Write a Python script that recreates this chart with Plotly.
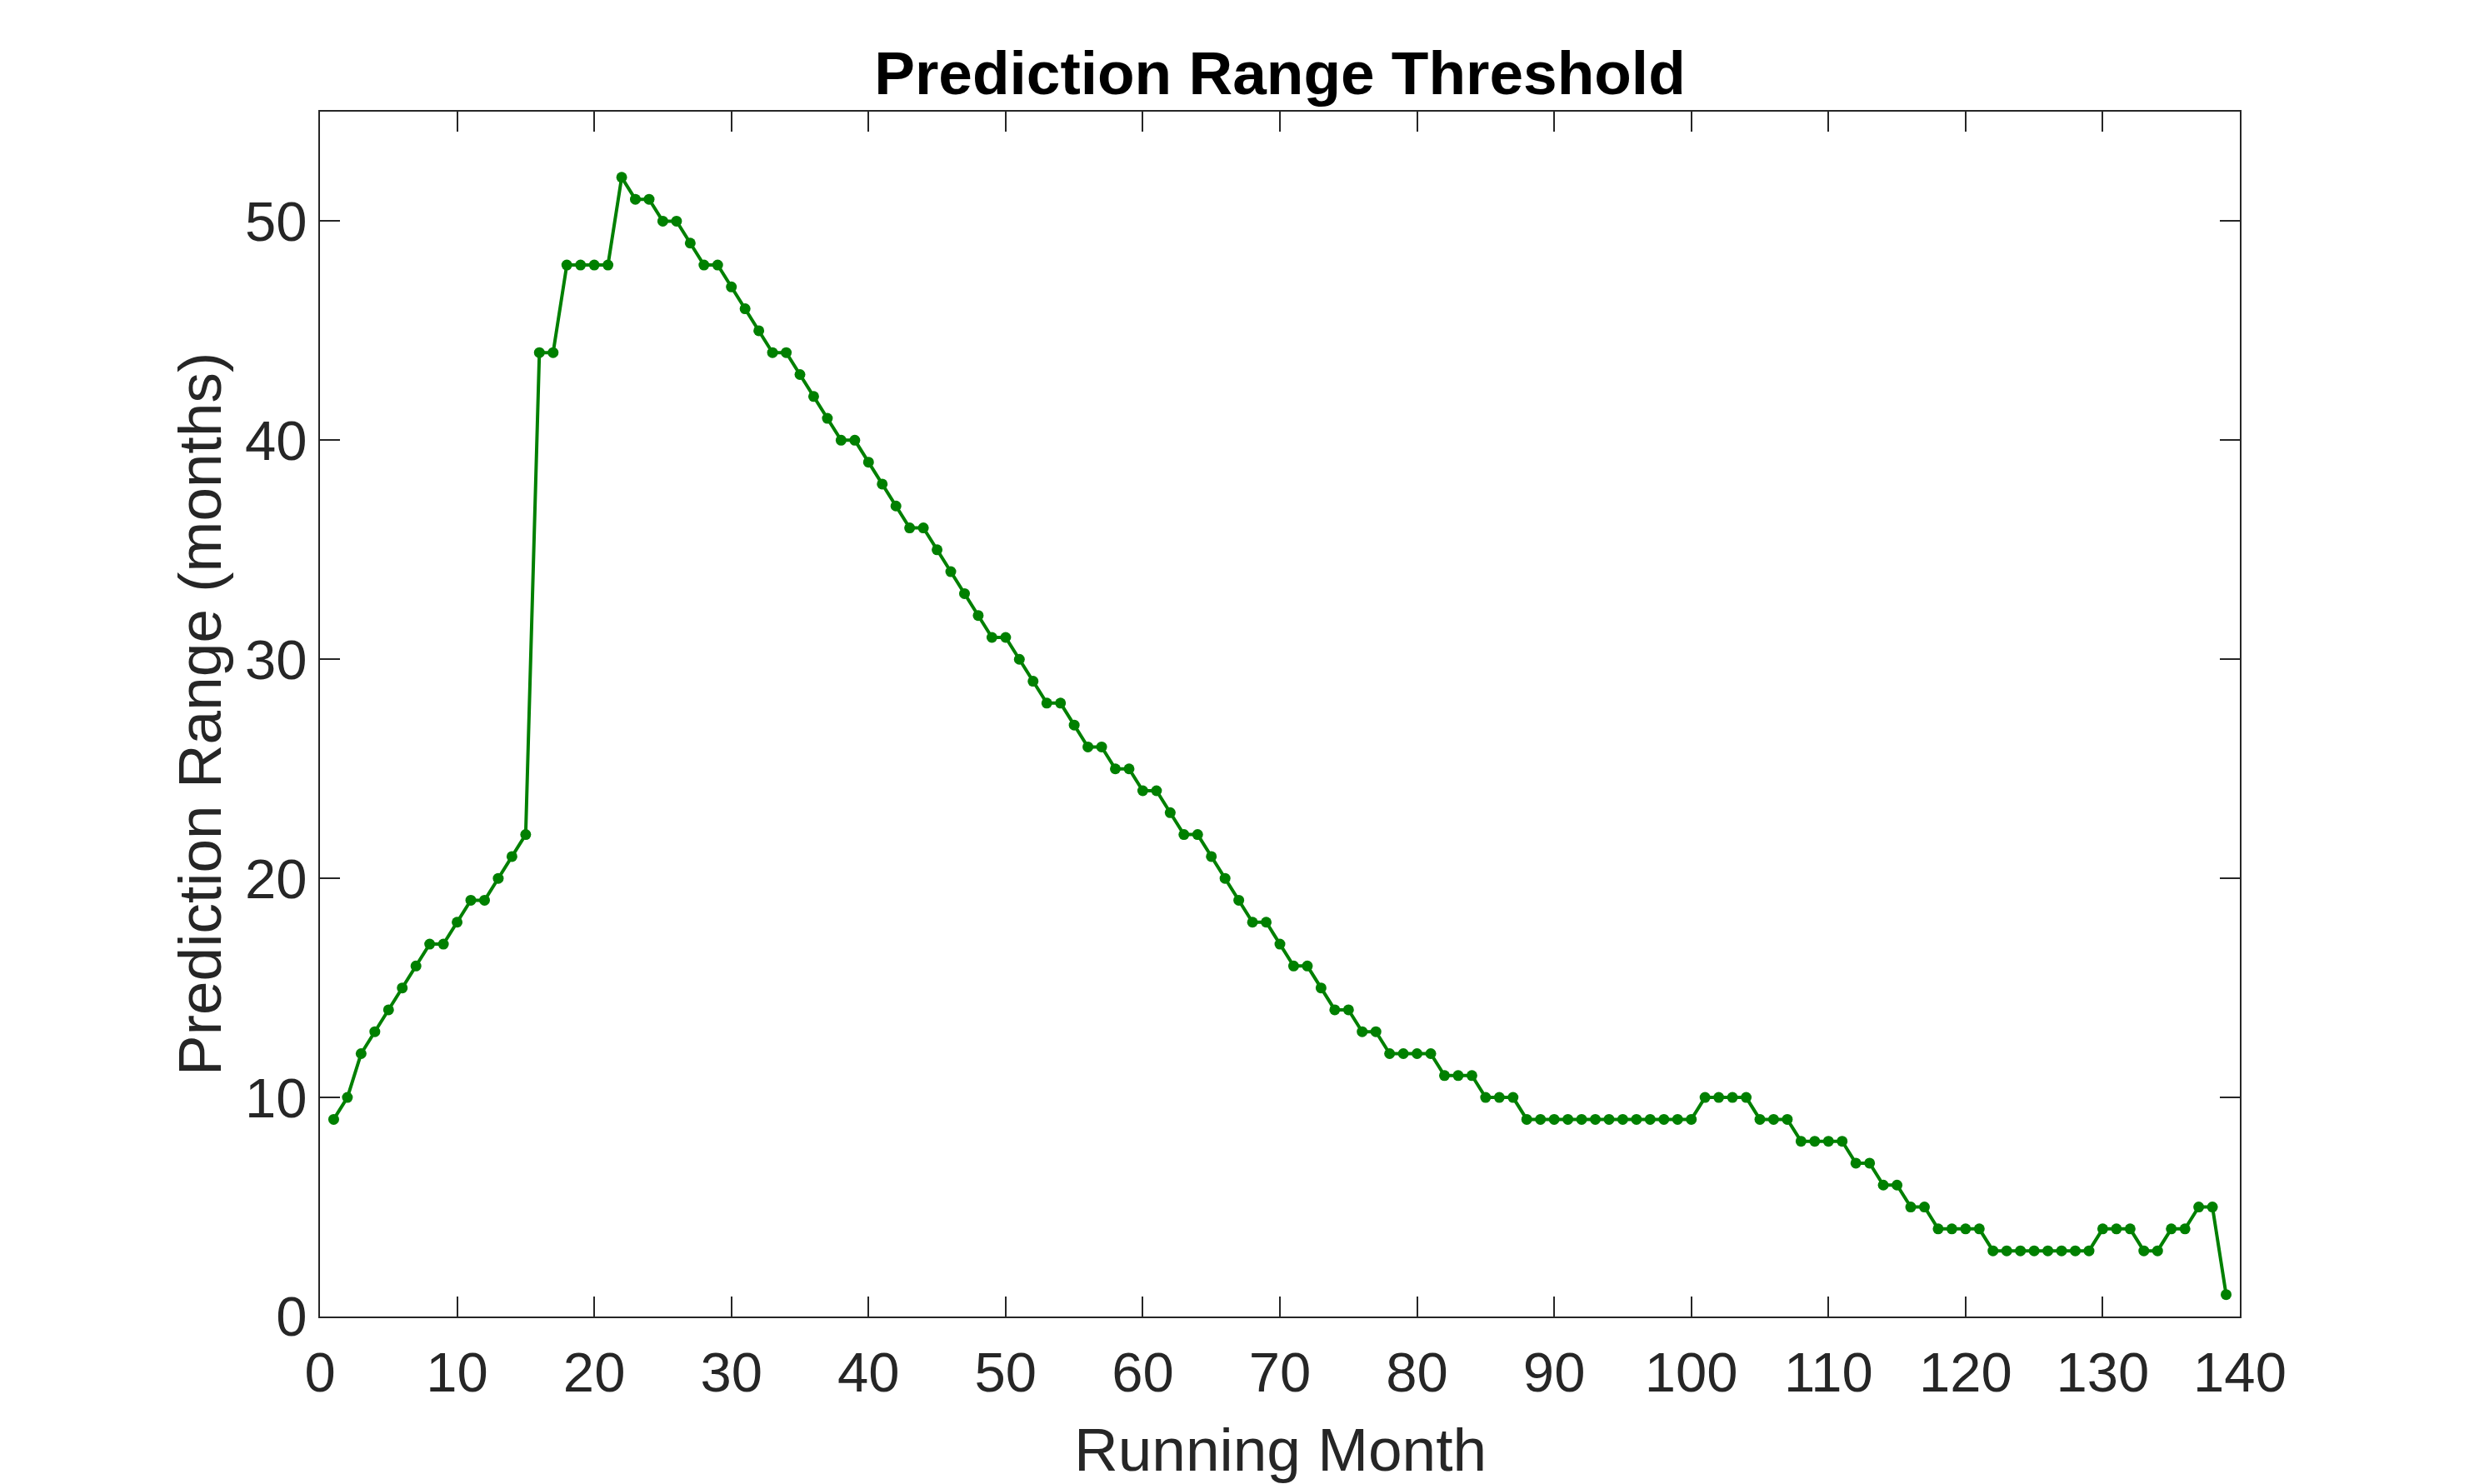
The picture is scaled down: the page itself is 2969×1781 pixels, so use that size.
import plotly.graph_objects as go

# Data
running_month = list(range(1, 140))
prediction_range = [
    9, 10, 12, 13, 14, 15, 16, 17, 17, 18,      # 1-10
    19, 19, 20, 21, 22, 44, 44, 48, 48, 48,     # 11-20
    48, 52, 51, 51, 50, 50, 49, 48, 48, 47,     # 21-30
    46, 45, 44, 44, 43, 42, 41, 40, 40, 39,     # 31-40
    38, 37, 36, 36, 35, 34, 33, 32, 31, 31,     # 41-50
    30, 29, 28, 28, 27, 26, 26, 25, 25, 24,     # 51-60
    24, 23, 22, 22, 21, 20, 19, 18, 18, 17,     # 61-70
    16, 16, 15, 14, 14, 13, 13, 12, 12, 12,     # 71-80
    12, 11, 11, 11, 10, 10, 10, 9, 9, 9,        # 81-90
    9, 9, 9, 9, 9, 9, 9, 9, 9, 9,               # 91-100
    10, 10, 10, 10, 9, 9, 9, 8, 8, 8,           # 101-110
    8, 7, 7, 6, 6, 5, 5, 4, 4, 4,               # 111-120
    4, 3, 3, 3, 3, 3, 3, 3, 3, 4,               # 121-130
    4, 4, 3, 3, 4, 4, 5, 5, 1,                  # 131-139
]

x_ticks = list(range(0, 141, 10))
y_ticks = list(range(0, 51, 10))

title_text = "Prediction Range Threshold"
x_label = "Running Month"
y_label = "Prediction Range (months)"

# Page is 2969x1781; the HTML body has an 8px margin, so compensate.
PAGE_W, PAGE_H = 2969, 1781
OFF = 8
W, H = PAGE_W - OFF, PAGE_H - OFF
# plot area in page pixels
L, R, T, B = 384, 2688, 134, 1580
axis_color = "#262626"
font_family = "Liberation Sans, Arial, Helvetica, sans-serif"

fig = go.Figure()
fig.add_trace(go.Scatter(
    x=running_month,
    y=prediction_range,
    mode="lines+markers",
    line=dict(color="rgb(0,128,0)", width=4),
    marker=dict(color="rgb(0,128,0)", size=13, line=dict(width=0)),
    showlegend=False,
))

axis_common = dict(
    showline=True,
    linecolor=axis_color,
    linewidth=2,
    mirror="allticks",
    ticks="inside",
    ticklen=24,
    tickwidth=2,
    tickcolor=axis_color,
    showgrid=False,
    zeroline=False,
    tickfont=dict(family=font_family, size=67, color=axis_color),
)

fig.update_layout(
    width=W,
    height=H,
    margin=dict(l=L - OFF, r=W - (R - OFF), t=T - OFF, b=H - (B - OFF), pad=0),
    paper_bgcolor="white",
    plot_bgcolor="white",
    title=dict(
        text="<b>" + title_text + "</b>",
        x=((L + R) / 2 - OFF) / W,
        xanchor="center",
        y=1 - (87 - OFF) / H,
        yanchor="middle",
        yref="container",
        font=dict(family=font_family, size=73, color="black"),
    ),
    xaxis=dict(range=[0, 140], tickvals=x_ticks, ticklabelstandoff=8, **axis_common),
    yaxis=dict(range=[0, 55], tickvals=y_ticks, **axis_common),
)

fig.add_annotation(
    text=x_label, xref="paper", yref="paper", x=0.5, y=0,
    xanchor="center", yanchor="middle", yshift=-(1739 - B), showarrow=False,
    font=dict(family=font_family, size=73, color=axis_color),
)
fig.add_annotation(
    text=y_label, xref="paper", yref="paper", x=0, y=0.5,
    xanchor="center", yanchor="middle", xshift=-(L - 239), textangle=-90,
    showarrow=False,
    font=dict(family=font_family, size=73, color=axis_color),
)

fig.write_html("out.html")
